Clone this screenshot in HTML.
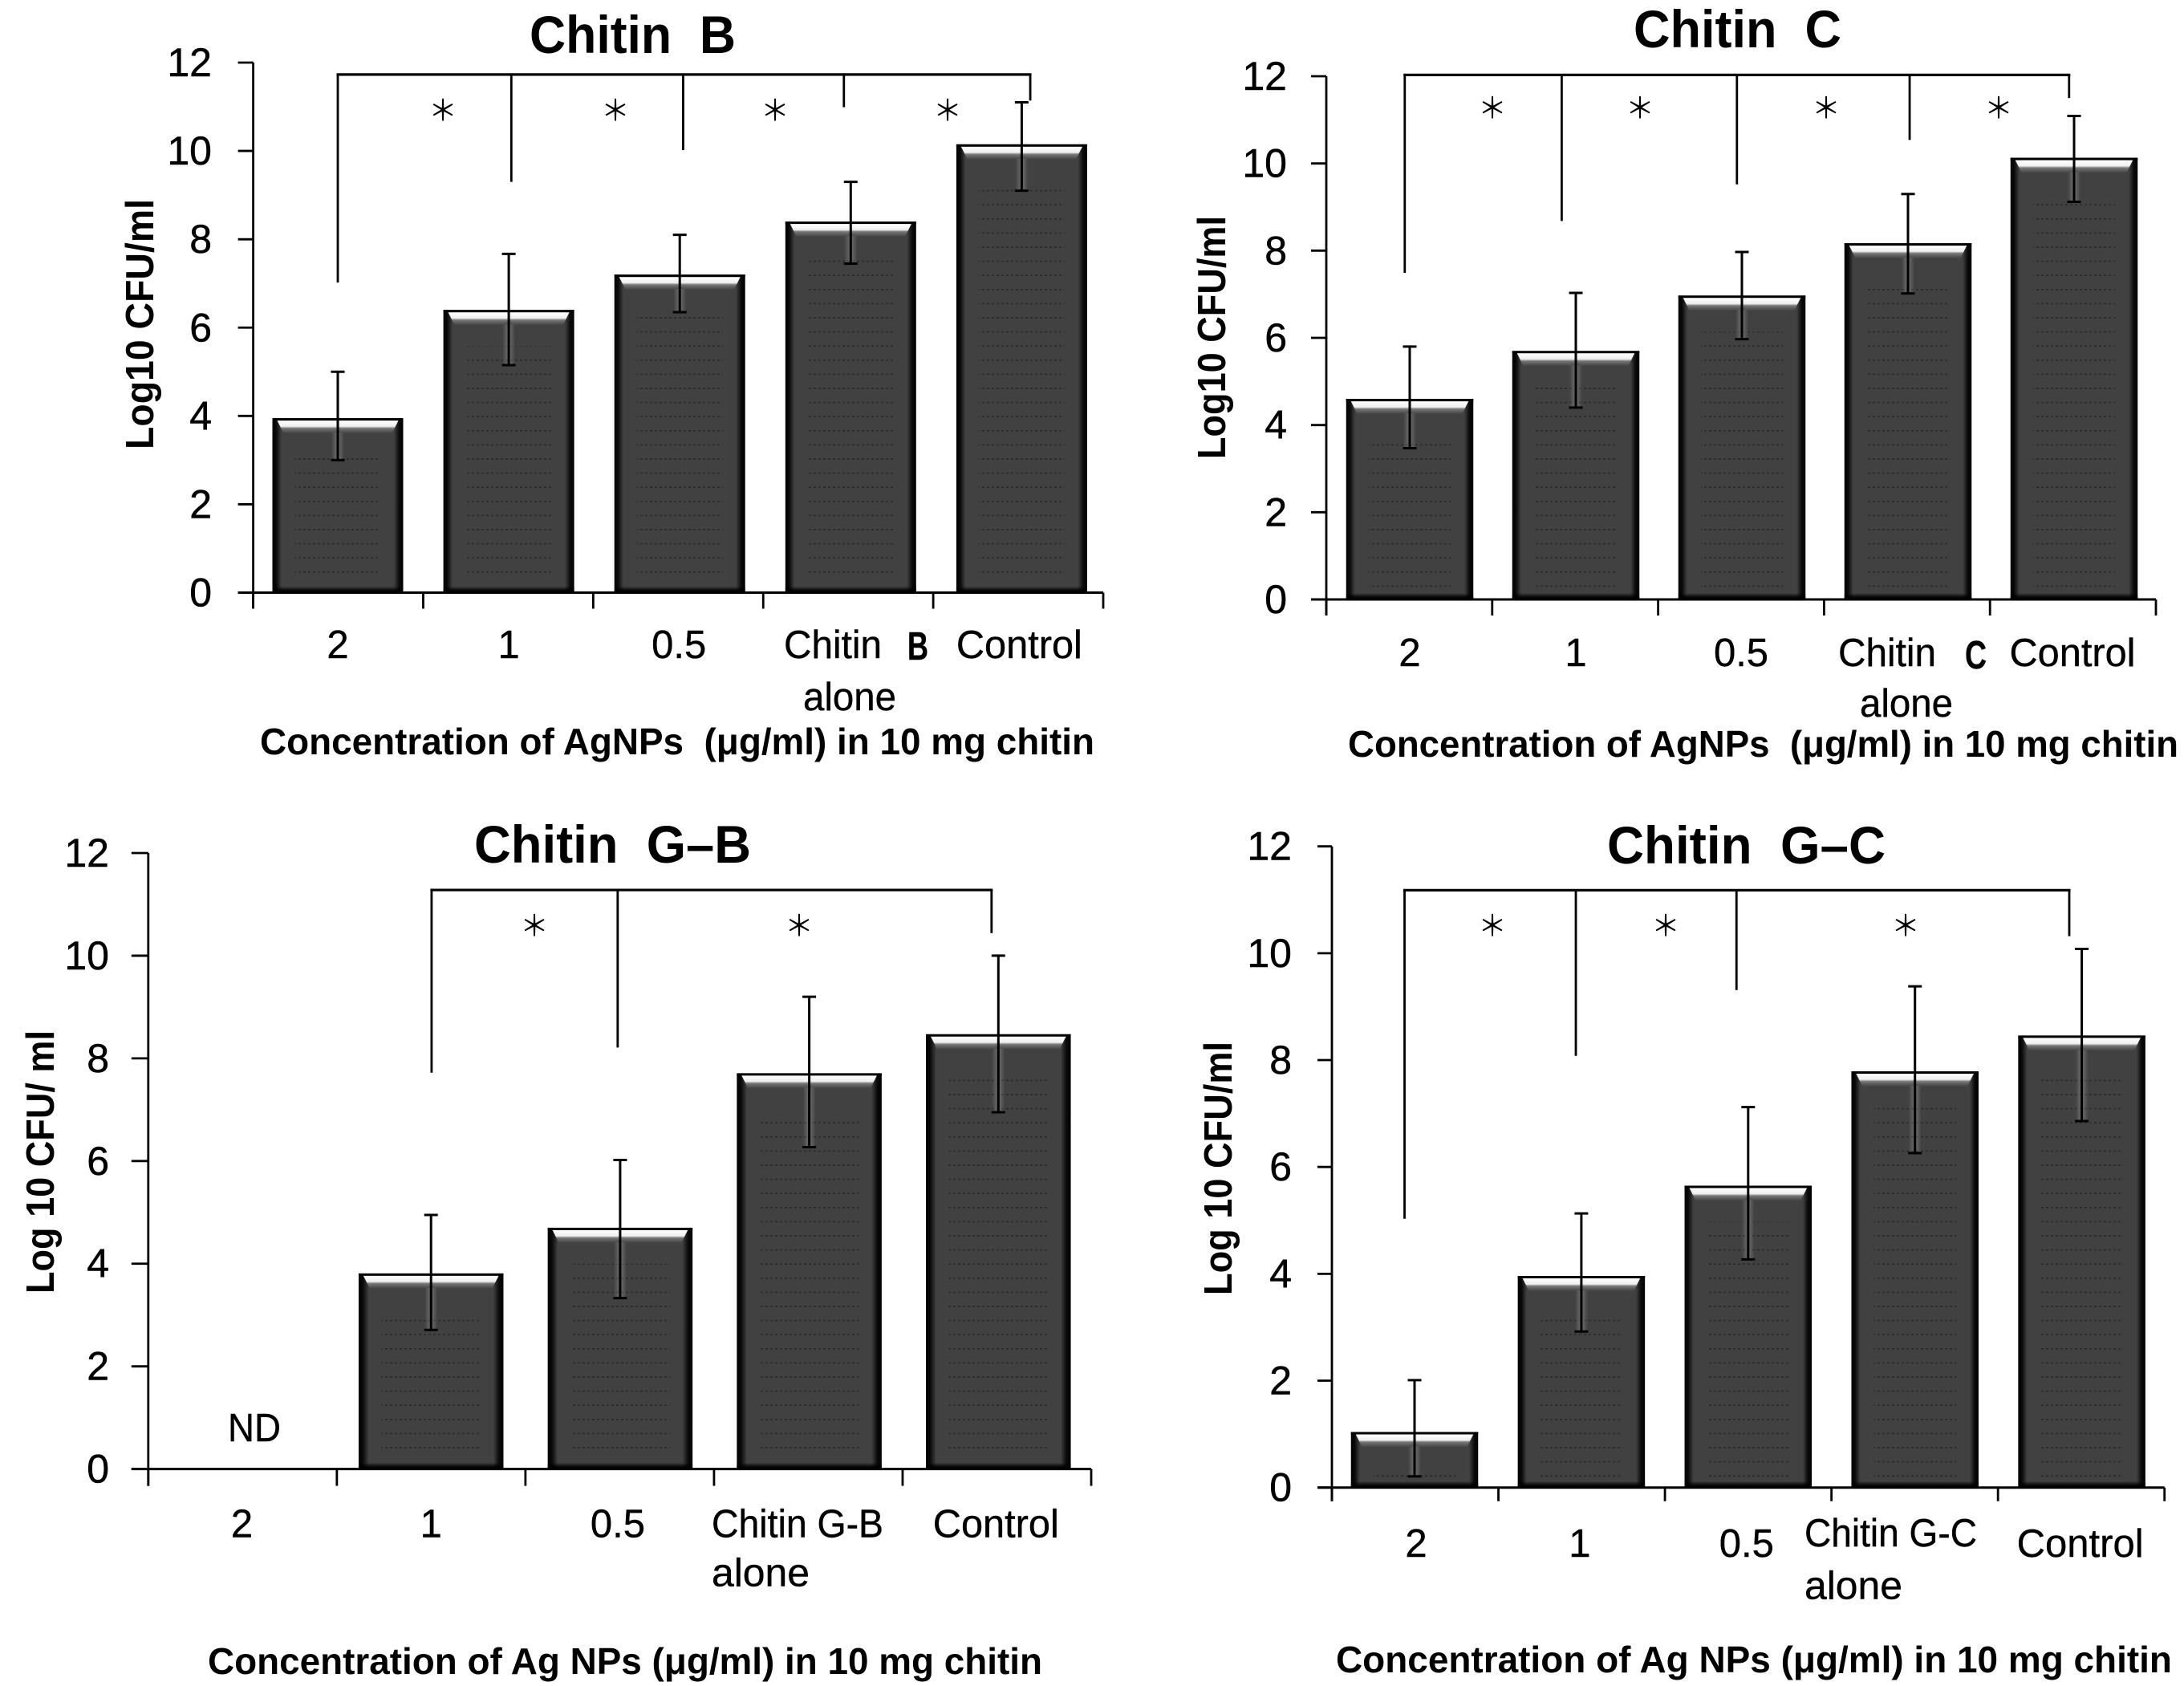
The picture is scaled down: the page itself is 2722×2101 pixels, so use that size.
<!DOCTYPE html>
<html>
<head>
<meta charset="utf-8">
<title>Chitin AgNP panels</title>
<style>
html,body{margin:0;padding:0;background:#fff;}
svg{display:block;}
text{font-family:"Liberation Sans","Noto Sans CJK JP",sans-serif;fill:#000;}
.title{font-size:66px;font-weight:bold;}
.ylab{font-size:49px;font-weight:bold;}
.xlab{font-size:46px;font-weight:bold;}
.tick{font-size:50px;stroke:#000;stroke-width:0.5px;}
.cat{font-size:49px;stroke:#000;stroke-width:0.4px;}
.star{font-size:36px;font-family:"Noto Sans CJK JP",sans-serif;text-anchor:middle;}
</style>
</head>
<body>
<svg id="figure" width="2722" height="2101" viewBox="0 0 2722 2101" xmlns="http://www.w3.org/2000/svg">
<defs>
<linearGradient id="barSide" x1="0" x2="1" y1="0" y2="0">
<stop offset="0" stop-color="#000"/><stop offset="0.03" stop-color="#0a0a0a"/><stop offset="0.07" stop-color="#414141"/><stop offset="0.93" stop-color="#414141"/><stop offset="0.97" stop-color="#0a0a0a"/><stop offset="1" stop-color="#000"/>
</linearGradient>
<linearGradient id="barTopFade" x1="0" x2="0" y1="0" y2="1">
<stop offset="0" stop-color="#fff"/><stop offset="0.45" stop-color="#eee"/><stop offset="0.6" stop-color="#777"/><stop offset="1" stop-color="#414141"/>
</linearGradient>
<linearGradient id="barBottomFade" x1="0" x2="0" y1="0" y2="1">
<stop offset="0" stop-color="#000" stop-opacity="0"/><stop offset="0.6" stop-color="#000" stop-opacity="0.85"/><stop offset="1" stop-color="#000"/>
</linearGradient>
<linearGradient id="errGlow" x1="0" x2="1" y1="0" y2="0">
<stop offset="0" stop-color="#fff" stop-opacity="0"/><stop offset="0.5" stop-color="#fff" stop-opacity="0.25"/><stop offset="1" stop-color="#fff" stop-opacity="0"/>
</linearGradient>
<pattern id="barDots" patternUnits="userSpaceOnUse" width="6" height="17.6">
<rect x="0" y="8" width="3" height="1.6" fill="#2a2a2a"/>
</pattern>
</defs>

<g id="panel-a">
<text class="title" x="660" y="66" textLength="257" lengthAdjust="spacingAndGlyphs">Chitin&#160;&#160;B</text>
<text class="ylab" transform="translate(191,560) rotate(-90)" textLength="312" lengthAdjust="spacingAndGlyphs">Log10 CFU/ml</text>
<text class="xlab" x="324" y="940" textLength="1040" lengthAdjust="spacingAndGlyphs">Concentration of AgNPs&#160;&#160;(μg/ml) in 10 mg chitin</text>
<text class="star" x="552" y="150">＊</text>
<text class="star" x="767" y="150">＊</text>
<text class="star" x="966" y="150">＊</text>
<text class="star" x="1181" y="150">＊</text>
</g>

<g id="panel-b">
<text class="title" x="2036" y="59" textLength="259" lengthAdjust="spacingAndGlyphs">Chitin&#160;&#160;C</text>
<text class="ylab" transform="translate(1527,572) rotate(-90)" textLength="303" lengthAdjust="spacingAndGlyphs">Log10 CFU/ml</text>
<text class="xlab" x="1680" y="943" textLength="1035" lengthAdjust="spacingAndGlyphs">Concentration of AgNPs&#160;&#160;(μg/ml) in 10 mg chitin</text>
<text class="star" x="1860" y="147">＊</text>
<text class="star" x="2044" y="147">＊</text>
<text class="star" x="2276" y="147">＊</text>
<text class="star" x="2491" y="147">＊</text>
</g>

<g id="panel-c">
<text class="title" x="591" y="1075" textLength="345" lengthAdjust="spacingAndGlyphs">Chitin&#160;&#160;G–B</text>
<text class="ylab" transform="translate(67,1612) rotate(-90)" textLength="328" lengthAdjust="spacingAndGlyphs">Log 10 CFU/ ml</text>
<text class="xlab" x="259" y="2086" textLength="1040" lengthAdjust="spacingAndGlyphs">Concentration of Ag NPs (μg/ml) in 10 mg chitin</text>
<text class="cat" x="284" y="1796" textLength="66" lengthAdjust="spacingAndGlyphs">ND</text>
<text class="star" x="666" y="1166">＊</text>
<text class="star" x="996" y="1166">＊</text>
</g>

<g id="panel-d">
<text class="title" x="2003" y="1076" textLength="347" lengthAdjust="spacingAndGlyphs">Chitin&#160;&#160;G–C</text>
<text class="ylab" transform="translate(1535,1614) rotate(-90)" textLength="316" lengthAdjust="spacingAndGlyphs">Log 10 CFU/ml</text>
<text class="xlab" x="1665" y="2084" textLength="1042" lengthAdjust="spacingAndGlyphs">Concentration of Ag NPs (μg/ml) in 10 mg chitin</text>
<text class="star" x="1860" y="1166">＊</text>
<text class="star" x="2076" y="1166">＊</text>
<text class="star" x="2375" y="1166">＊</text>
</g>
</svg>

<script>
// ---- chart data ----
var yTickLabels = [0, 2, 4, 6, 8, 10, 12];

var chitinBCategories = ['2', '1', '0.5', 'Chitin B alone', 'Control'];
var chitinBValues = [3.95, 6.4, 7.2, 8.4, 10.15];
var chitinBErrUpper = [5.0, 7.67, 8.1, 9.3, 11.1];
var chitinBErrLower = [3.0, 5.15, 6.35, 7.45, 9.1];
var chitinBBracketLevel = 11.73;
var chitinBBracketCats = [0, 1.015, 2.02, 2.96, 4.05];
var chitinBBracketEnds = [7.02, 9.3, 10.02, 10.99, 11.14];

var chitinCCategories = ['2', '1', '0.5', 'Chitin C alone', 'Control'];
var chitinCValues = [4.6, 5.7, 6.97, 8.17, 10.13];
var chitinCErrUpper = [5.8, 7.03, 7.97, 9.3, 11.09];
var chitinCErrLower = [3.47, 4.4, 5.97, 7.02, 9.12];
var chitinCBracketLevel = 12.03;
var chitinCBracketCats = [-0.03, 0.915, 1.97, 3.01, 3.97];
var chitinCBracketEnds = [7.49, 8.68, 9.52, 10.54, 11.5];

var chitinGBCategories = ['2', '1', '0.5', 'Chitin G-B alone', 'Control'];
var chitinGBValues = [0, 3.81, 4.7, 7.71, 8.47];
var chitinGBErrUpper = [null, 4.95, 6.02, 9.2, 10.0];
var chitinGBErrLower = [null, 2.71, 3.33, 6.27, 6.95];
var chitinGBBracketLevel = 11.28;
var chitinGBBracketCats = [1.003, 1.987, 3.964];
var chitinGBBracketEnds = [7.72, 8.21, 10.44];

var chitinGCCategories = ['2', '1', '0.5', 'Chitin G-C alone', 'Control'];
var chitinGCValues = [1.04, 3.96, 5.65, 7.79, 8.46];
var chitinGCErrUpper = [2.01, 5.13, 7.12, 9.38, 10.08];
var chitinGCErrLower = [0.21, 2.92, 4.27, 6.26, 6.86];
var chitinGCBracketLevel = 11.18;
var chitinGCBracketCats = [-0.06, 0.967, 1.93, 3.925];
var chitinGCBracketEnds = [5.03, 8.08, 9.31, 10.32];

// ---- drawing ----
var NS = 'http://www.w3.org/2000/svg';

function make(parent, tag, attrs, text) {
  var el = document.createElementNS(NS, tag);
  for (var k in attrs) { el.setAttribute(k, attrs[k]); }
  if (text !== undefined) { el.textContent = text; }
  parent.appendChild(el);
  return el;
}

function drawPanel(p) {
  var root = document.getElementById(p.id);
  var yMax = yTickLabels[yTickLabels.length - 1];
  function yPos(v) { return p.y0 - (p.y0 - p.yTop) * v / yMax; }
  function xPos(c) { return p.x0 + c * p.step; }
  var el, i;

  // bars
  p.values.forEach(function (v, n) {
    if (v <= 0) { return; }
    var g = make(root, 'g', {});
    
    
    var left = xPos(n) - p.barW / 2, top = yPos(v), h = p.y0 - top;
    var body = make(g, 'rect', { x: left, y: top, width: p.barW, height: h, fill: 'url(#barSide)' });
    
    
    if (h > 60) {
      var dots = make(g, 'rect', { x: left + 28, y: top + 45, width: p.barW - 56, height: h - 55, fill: 'url(#barDots)' });
      
      
    }
    var edge = make(g, 'rect', { x: left, y: top, width: p.barW, height: 3, fill: '#000' });
    
    
    var shine = make(g, 'polygon', {
      points: (left + 6) + ',' + (top + 3) + ' ' + (left + p.barW - 6) + ',' + (top + 3) + ' ' +
              (left + p.barW - 14) + ',' + (top + 19) + ' ' + (left + 14) + ',' + (top + 19),
      fill: 'url(#barTopFade)'
    });
    
    
    var foot = make(g, 'rect', { x: left, y: p.y0 - 8, width: p.barW, height: 8, fill: 'url(#barBottomFade)' });
    
    
  });

  // error bars
  p.values.forEach(function (v, n) {
    if (p.errUpper[n] === null) { return; }
    var cx = xPos(n), yU = yPos(p.errUpper[n]), yL = yPos(p.errLower[n]), yB = yPos(v);
    var g = make(root, 'g', {});
    
    
    var glow = make(g, 'rect', { x: cx - 8, y: yB + 18, width: 16, height: Math.max(0, yL - yB - 18), fill: 'url(#errGlow)' });
    
    
    var stem = make(g, 'line', { x1: cx, x2: cx, y1: yU, y2: yL, stroke: '#000', 'stroke-width': 3 });
    
    
    var capU = make(g, 'line', { x1: cx - 8.5, x2: cx + 8.5, y1: yU, y2: yU, stroke: '#000', 'stroke-width': 3 });
    
    
    var capL = make(g, 'line', { x1: cx - 8.5, x2: cx + 8.5, y1: yL, y2: yL, stroke: '#000', 'stroke-width': 3 });
    
    
  });

  // axes
  el = make(root, 'line', { x1: p.axisL, x2: p.axisL, y1: p.yTop, y2: p.y0 + p.tickLen, stroke: '#000', 'stroke-width': 2.8 });
  
  
  el = make(root, 'line', { x1: p.axisL - p.yTickLen, x2: p.axisR, y1: p.y0, y2: p.y0, stroke: '#000', 'stroke-width': 3 });
  
  

  // y ticks
  yTickLabels.forEach(function (t) {
    var yy = yPos(t);
    var tk = make(root, 'line', { x1: p.axisL - p.yTickLen, x2: p.axisL, y1: yy, y2: yy, stroke: '#000', 'stroke-width': 2.8 });
    
    
    var lb = make(root, 'text', { x: p.yLabelR, y: yy + 17, 'text-anchor': 'end', 'class': 'tick' }, String(t));
    
    
  });

  // x ticks
  for (i = 0; i <= p.categories.length; i++) {
    var xx = p.axisL + (p.axisR - p.axisL) * i / p.categories.length;
    el = make(root, 'line', { x1: xx, x2: xx, y1: p.y0, y2: p.y0 + p.tickLen, stroke: '#000', 'stroke-width': 2.8 });
    
    
  }

  // category labels
  p.categories.forEach(function (c, n) {
    var lb;
    if (/ alone$/.test(c)) {
      var line = c.replace(/ alone$/, '');
      if (p.boldLetter) {
        var parts = line.split(' ');
        lb = make(root, 'text', { x: p.alone.x, y: p.catBase, 'class': 'cat', textLength: p.alone.len, lengthAdjust: 'spacingAndGlyphs' }, parts[0]);
        
        
        lb = make(root, 'text', { x: p.boldLetter.x, y: p.catBase + p.boldLetter.dy, 'class': 'cat', 'font-weight': 'bold', textLength: p.boldLetter.len, lengthAdjust: 'spacingAndGlyphs' }, parts[1]);
        
        
      } else {
        lb = make(root, 'text', { x: p.alone.x, y: p.alone.base, 'class': 'cat', textLength: p.alone.len, lengthAdjust: 'spacingAndGlyphs' }, line);
        
        
      }
      lb = make(root, 'text', { x: p.alone.x2, y: p.alone.base2, 'class': 'cat', textLength: p.alone.len2, lengthAdjust: 'spacingAndGlyphs' }, 'alone');
      
      
    } else {
      var attrs = { x: xPos(n) + (p.catDx ? p.catDx[n] : 0), y: p.catBase, 'text-anchor': 'middle', 'class': 'cat' };
      if (c === 'Control') { attrs.textLength = p.controlLen; attrs.lengthAdjust = 'spacingAndGlyphs'; }
      lb = make(root, 'text', attrs, c);
      
      
    }
  });

  // significance bracket
  var yLevel = yPos(p.bracketLevel);
  var xs = p.bracketCats.map(xPos);
  el = make(root, 'line', { x1: xs[0] - 1.5, x2: xs[xs.length - 1] + 1.5, y1: yLevel, y2: yLevel, stroke: '#000', 'stroke-width': 3.2 });
  
  
  p.bracketCats.forEach(function (c, n) {
    var d = make(root, 'line', { x1: xPos(c), x2: xPos(c), y1: yLevel, y2: yPos(p.bracketEnds[n]), stroke: '#000', 'stroke-width': 2.8 });
    
    
  });
}

drawPanel({
  id: 'panel-a', axisL: 315.6, axisR: 1375, yTop: 78, y0: 738.5, tickLen: 20, yTickLen: 19, yLabelR: 264,
  x0: 421, step: 213.1, barW: 163, catBase: 820, controlLen: 157, catDx: [0, 0, -1, 0, -3],
  alone: { x: 977, len: 122, x2: 1001, base2: 885, len2: 116 },
  boldLetter: { x: 1131, len: 26, dy: 2 },
  categories: chitinBCategories, values: chitinBValues, errUpper: chitinBErrUpper, errLower: chitinBErrLower,
  bracketLevel: chitinBBracketLevel, bracketCats: chitinBBracketCats, bracketEnds: chitinBBracketEnds
});
drawPanel({
  id: 'panel-b', axisL: 1653, axisR: 2687, yTop: 95, y0: 747, tickLen: 20, yTickLen: 19, yLabelR: 1604,
  x0: 1757, step: 207, barW: 158.5, catBase: 830, controlLen: 157, catDx: [0, 0, -1, 0, -2],
  alone: { x: 2291, len: 122, x2: 2318, base2: 893, len2: 116 },
  boldLetter: { x: 2449, len: 27, dy: 3 },
  categories: chitinCCategories, values: chitinCValues, errUpper: chitinCErrUpper, errLower: chitinCErrLower,
  bracketLevel: chitinCBracketLevel, bracketCats: chitinCBracketCats, bracketEnds: chitinCBracketEnds
});
drawPanel({
  id: 'panel-c', axisL: 184.8, axisR: 1360, yTop: 1063, y0: 1830.6, tickLen: 21, yTickLen: 21, yLabelR: 136,
  x0: 301.5, step: 235.7, barW: 180.5, catBase: 1915.5, controlLen: 157, catDx: [0, 0, -3, 0, -3],
  alone: { x: 887, base: 1915.5, len: 214, x2: 887, base2: 1976.5, len2: 122 },
  categories: chitinGBCategories, values: chitinGBValues, errUpper: chitinGBErrUpper, errLower: chitinGBErrLower,
  bracketLevel: chitinGBBracketLevel, bracketCats: chitinGBBracketCats, bracketEnds: chitinGBBracketEnds
});
drawPanel({
  id: 'panel-d', axisL: 1660, axisR: 2697.7, yTop: 1054.7, y0: 1853.7, tickLen: 17, yTickLen: 18, yLabelR: 1610,
  x0: 1763, step: 207.9, barW: 158.5, catBase: 1940, controlLen: 158, catDx: [2, -2, -2, 0, -2],
  alone: { x: 2249, base: 1927, len: 215, x2: 2249, base2: 1992.6, len2: 122 },
  categories: chitinGCCategories, values: chitinGCValues, errUpper: chitinGCErrUpper, errLower: chitinGCErrLower,
  bracketLevel: chitinGCBracketLevel, bracketCats: chitinGCBracketCats, bracketEnds: chitinGCBracketEnds
});
</script>
</body>
</html>
